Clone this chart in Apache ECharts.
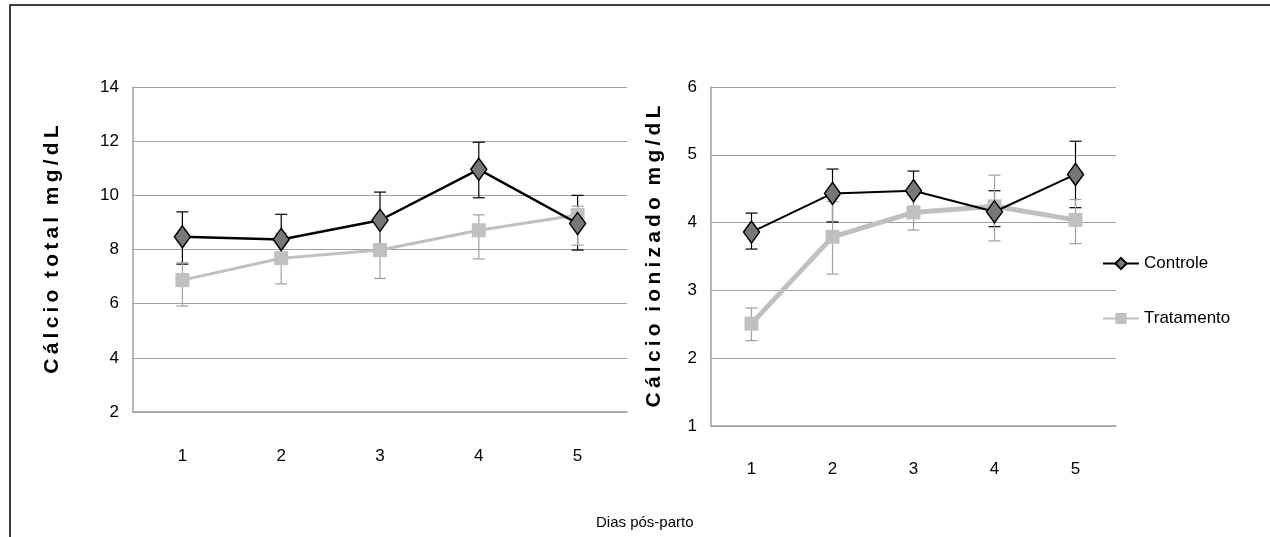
<!DOCTYPE html>
<html><head><meta charset="utf-8">
<script src="https://cdn.jsdelivr.net/npm/echarts@6/dist/echarts.min.js"></script>
<style>html,body{margin:0;padding:0;background:#fff}#c{width:1270px;height:537px}</style>
</head><body><div id="c"></div>
<script>
const categories = ['1','2','3','4','5'];
const totalControle = [8.47, 8.37, 9.08, 10.96, 8.96];
const totalControleHi = [9.39, 9.30, 10.12, 11.96, 10.0];
const totalControleLo = [7.46, 7.45, 8.05, 9.91, 7.98];
const totalTrat = [6.87, 7.68, 7.98, 8.71, 9.27];
const totalTratHi = [7.51, 8.6, 9.0, 9.28, 9.6];
const totalTratLo = [5.91, 6.73, 6.93, 7.65, 8.16];
const ionControle = [3.86, 4.43, 4.47, 4.16, 4.71];
const ionControleHi = [4.14, 4.79, 4.76, 4.47, 5.2];
const ionControleLo = [3.61, 4.01, 4.17, 3.94, 4.22];
const ionTrat = [2.51, 3.79, 4.15, 4.24, 4.04];
const ionTratHi = [2.74, 4.31, 4.4, 4.70, 4.34];
const ionTratLo = [2.26, 3.24, 3.89, 3.73, 3.69];

const FONT = 'Liberation Sans Narrow, Liberation Sans, sans-serif';
function spaced(s){return s.split(' ').map(w=>w.split('').join('\u2009')).join('  ');}
function errSeries(name, xi, yi, hi, lo, color){
  return {type:'custom', name:name, xAxisIndex:xi, yAxisIndex:yi, z:1, silent:true,
    data: categories.map((c,i)=>[i, lo[i], hi[i]]),
    renderItem:(p,api)=>{
      const a=api.coord([api.value(0),api.value(1)]), b=api.coord([api.value(0),api.value(2)]);
      const w=6, st={stroke:color,lineWidth:1.2};
      return {type:'group',children:[
        {type:'line',shape:{x1:a[0],y1:a[1],x2:b[0],y2:b[1]},style:st},
        {type:'line',shape:{x1:a[0]-w,y1:a[1],x2:a[0]+w,y2:a[1]},style:st},
        {type:'line',shape:{x1:b[0]-w,y1:b[1],x2:b[0]+w,y2:b[1]},style:st}]};
    }};
}
const yname = {fontSize:21,fontWeight:'bold',color:'#000',fontFamily:FONT};
const axLabel = {color:'#000',fontSize:17,fontFamily:FONT};
const chart = echarts.init(document.getElementById('c'));
chart.setOption({
  animation:false,
  grid:[{left:133,top:87,width:494,height:325},{left:711,top:87,width:405,height:339}],
  xAxis:[0,1].map(i=>({type:'category',gridIndex:i,data:categories,boundaryGap:true,
    axisLine:{lineStyle:{color:'#a0a0a0',width:1.5}},axisTick:{show:false},
    axisLabel:Object.assign({margin:i===0?36:35},axLabel)})),
  yAxis:[
    {type:'value',gridIndex:0,min:2,max:14,interval:2,axisLine:{show:true,lineStyle:{color:'#a0a0a0',width:1.5}},
     splitLine:{lineStyle:{color:'#a0a0a0'}},axisLabel:Object.assign({margin:14},axLabel),
     name:spaced('Cálcio total mg/dL'),nameLocation:'middle',nameRotate:90,nameGap:70,nameTextStyle:yname},
    {type:'value',gridIndex:1,min:1,max:6,interval:1,axisLine:{show:true,lineStyle:{color:'#a0a0a0',width:1.5}},
     splitLine:{lineStyle:{color:'#a0a0a0'}},axisLabel:Object.assign({margin:14},axLabel),
     name:spaced('Cálcio ionizado mg/dL'),nameLocation:'middle',nameRotate:90,nameGap:46,nameTextStyle:yname}
  ],
  legend:{orient:'vertical',left:1097,top:250,itemWidth:36,itemHeight:14,itemGap:38,
    textStyle:{fontSize:17,color:'#000',fontFamily:FONT},data:['Controle','Tratamento']},
  graphic:[
    {type:'polyline',shape:{points:[[10,537],[10,5],[1270,5]]},style:{stroke:'#000',lineWidth:1.5,fill:null}},
    {type:'text',left:596,top:515,style:{text:'Dias pós-parto',fontSize:15,fill:'#000',fontFamily:'Liberation Sans, Arial'}}
  ],
  series:[
    errSeries('e1',0,0,totalControleHi,totalControleLo,'#000'),
    errSeries('e2',0,0,totalTratHi,totalTratLo,'#a0a0a0'),
    errSeries('e3',1,1,ionControleHi,ionControleLo,'#000'),
    errSeries('e4',1,1,ionTratHi,ionTratLo,'#a0a0a0'),
    {name:'Tratamento',type:'line',xAxisIndex:0,yAxisIndex:0,data:totalTrat,symbol:'rect',symbolSize:14,
      lineStyle:{color:'#c0c0c0',width:3},itemStyle:{color:'#c0c0c0'},z:2},
    {name:'Controle',type:'line',xAxisIndex:0,yAxisIndex:0,data:totalControle,symbol:'diamond',symbolSize:[16,22],
      lineStyle:{color:'#000',width:2.5},itemStyle:{color:'#777',borderColor:'#000',borderWidth:1.5},z:3},
    {name:'Tratamento',type:'line',xAxisIndex:1,yAxisIndex:1,data:ionTrat,symbol:'rect',symbolSize:14,
      lineStyle:{color:'#c0c0c0',width:5},itemStyle:{color:'#c0c0c0'},z:2},
    {name:'Controle',type:'line',xAxisIndex:1,yAxisIndex:1,data:ionControle,symbol:'diamond',symbolSize:[16,22],
      lineStyle:{color:'#000',width:2},itemStyle:{color:'#777',borderColor:'#000',borderWidth:1.5},z:3}
  ]
});
</script></body></html>
